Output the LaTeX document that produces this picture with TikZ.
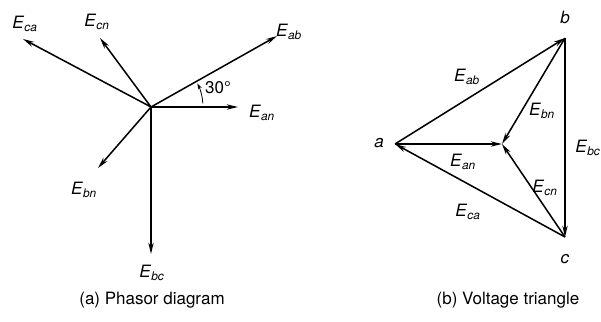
\documentclass[tikz,border=0pt]{standalone}
\usepackage{fontspec}
\setmainfont{TeX Gyre Heros}
\usepackage{tikz}
\usetikzlibrary{arrows.meta}

\newcommand{\phs}[1]{\textit{E}\textsubscript{\textit{#1}}}

\tikzset{
  phasor/.style={-{Stealth[length=3.4mm,width=1.6mm]}, line width=1.3pt},
  lbl/.style={inner sep=1pt},
}

\begin{document}
\begin{tikzpicture}[x=0.3mm, y=-0.3mm, font=\fontsize{14.5}{17}\selectfont]
  \useasboundingbox (0,0) rectangle (601,322);
  % (a) phasor diagram
  \coordinate (O) at (151,107);
  \coordinate (tab) at (277,36);
  \coordinate (tan) at (238,107);
  \coordinate (tcn) at (100,38);
  \coordinate (tca) at (23,39);
  \coordinate (tbn) at (98,168);
  \coordinate (tbc) at (151,254);
  \draw[phasor] (O) -- (tab);
  \draw[phasor] (O) -- (tan);
  \draw[phasor] (O) -- (tcn);
  \draw[phasor] (O) -- (tca);
  \draw[phasor] (O) -- (tbn);
  \draw[phasor] (O) -- (tbc);
  \draw[-{Stealth[length=1.8mm,width=1.1mm]}, line width=0.7pt]
    ([shift={(-4:52)}]O) arc[start angle=-4, end angle=-27, radius=52];
  \node[lbl] (lab) at (289,32) {\phs{ab}};
  \node[lbl] (lan) at (262,113) {\phs{an}};
  \node[lbl] (lcn) at (97,22) {\phs{cn}};
  \node[lbl] (lca) at (25,24) {\phs{ca}};
  \node[lbl] (lbn) at (84,190) {\phs{bn}};
  \node[lbl] (lbc) at (152,273) {\phs{bc}};
  \node[lbl] (ang) at (218,88) {30°};
  \node (capa) at (152,300) {(a) Phasor diagram};
  % (b) voltage triangle
  \coordinate (a) at (395,144);
  \coordinate (b) at (565,38);
  \coordinate (c) at (565,237);
  \coordinate (n) at (502,144);
  \draw[phasor] (a) -- (b);
  \draw[phasor] (b) -- (c);
  \draw[phasor] (c) -- (a);
  \draw[phasor] (a) -- (n);
  \draw[phasor] (b) -- (n);
  \draw[phasor] (c) -- (n);
  \node[lbl] (na) at (379,143) {\textit{a}};
  \node[lbl] (nb) at (565,17) {\textit{b}};
  \node[lbl] (nc) at (565,259) {\textit{c}};
  \node[lbl] (mab) at (467,77) {\phs{ab}};
  \node[lbl] (mbn) at (542,111) {\phs{bn}};
  \node[lbl] (mbc) at (588,148) {\phs{bc}};
  \node[lbl] (man) at (463,162) {\phs{an}};
  \node[lbl] (mcn) at (545,188) {\phs{cn}};
  \node[lbl] (mca) at (468,212) {\phs{ca}};
  \node (capb) at (508,300) {(b) Voltage triangle};
\end{tikzpicture}
\end{document}
